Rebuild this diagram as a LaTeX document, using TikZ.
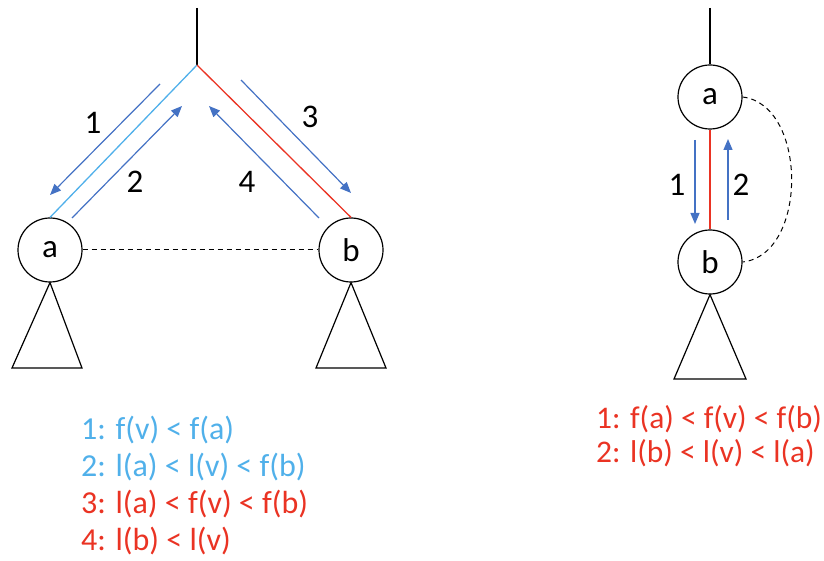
\documentclass[tikz,border=0pt]{standalone}
\usepackage{fontspec}
\setmainfont{Carlito}
\usetikzlibrary{arrows.meta}
\definecolor{walkblue}{RGB}{68,114,196}
\definecolor{lightblue}{RGB}{80,176,234}
\definecolor{treered}{RGB}{234,51,35}

\begin{document}
\begin{tikzpicture}[
		x=1pt, y=-1pt,
		treenode/.style={shape=circle, draw, line width=1.2pt, minimum size=64pt, inner sep=0pt, font=\fontsize{33}{33}\selectfont},
		subtree/.style={draw, line width=1.2pt},
		walk/.style={draw=walkblue, line width=1.2pt, -{Triangle[length=11pt,width=9pt]}},
		numlabel/.style={font=\fontsize{33}{33}\selectfont},
		cond/.style={anchor=base west, inner sep=0pt, font=\fontsize{32}{32}\selectfont},
		crossedge/.style={draw, line width=1pt, dash pattern=on 5pt off 4pt}
		]
		\useasboundingbox (0,0) rectangle (824,561);
		% left: a and b in different subtrees
		\coordinate (root) at (197,65);
		\coordinate (rootup) at (197,8);
		\node[treenode] (a) at (50,250) {a};
		\node[treenode] (b) at (351,250) {b};
		\draw[line width=1.5pt] (rootup) -- (root);
		\draw[lightblue, line width=1.3pt] (root) -- (a.north);
		\draw[treered, line width=1.3pt] (root) -- (b.north);
		\draw[crossedge] (a) -- (b);
		\draw[subtree] (a.south) -- (12,368) -- (82,368) -- cycle;
		\draw[subtree] (b.south) -- (316,368) -- (386,368) -- cycle;
		\coordinate (w1s) at (160,84);  \coordinate (w1e) at (50,195);
		\coordinate (w2s) at (72,218);  \coordinate (w2e) at (182,106);
		\coordinate (w3s) at (241,80);  \coordinate (w3e) at (351,193);
		\coordinate (w4s) at (319,218); \coordinate (w4e) at (209,106);
		\draw[walk] (w1s) -- (w1e);
		\draw[walk] (w2s) -- (w2e);
		\draw[walk] (w3s) -- (w3e);
		\draw[walk] (w4s) -- (w4e);
		\node[numlabel] (n1) at (93,123) {1};
		\node[numlabel] (n2) at (135,182) {2};
		\node[numlabel] (n3) at (310,117) {3};
		\node[numlabel] (n4) at (247,182) {4};
		\node[cond, lightblue] (c1) at (81,439) {1: f(v) < f(a)};
		\node[cond, lightblue] (c2) at (81,476) {2: l(a) < l(v) < f(b)};
		\node[cond, treered] (c3) at (81,513) {3: l(a) < f(v) < f(b)};
		\node[cond, treered] (c4) at (81,550) {4: l(b) < l(v)};
		% right: b below a
		\coordinate (rootupr) at (710,8);
		\node[treenode] (ar) at (710,97) {a};
		\node[treenode] (br) at (710,262) {b};
		\draw[line width=1.5pt] (rootupr) -- (ar.north);
		\draw[treered, line width=1.3pt] (ar.south) -- (br.north);
		\draw[crossedge] (ar.east) .. controls (808,105) and (808,255) .. (br.east);
		\draw[subtree] (br.south) -- (674,379) -- (746,379) -- cycle;
		\coordinate (w5s) at (695,140); \coordinate (w5e) at (695,224);
		\coordinate (w6s) at (728,220); \coordinate (w6e) at (728,139);
		\draw[walk] (w5s) -- (w5e);
		\draw[walk] (w6s) -- (w6e);
		\node[numlabel] (n5) at (677,185) {1};
		\node[numlabel] (n6) at (741,185) {2};
		\node[cond, treered, font=\fontsize{31.5}{31.5}\selectfont] (c5) at (596,428) {1: f(a) < f(v) < f(b)};
		\node[cond, treered, font=\fontsize{31.5}{31.5}\selectfont] (c6) at (596,462) {2: l(b) < l(v) < l(a)};
	\end{tikzpicture}
\end{document}
